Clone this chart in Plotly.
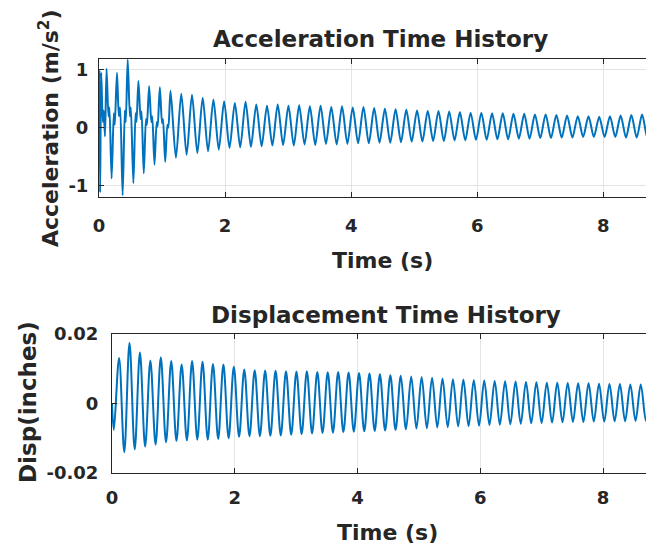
import plotly.graph_objects as go

# ---------------- data ----------------
# Extremum times of the steady oscillation (s)
EXT_T = [0.030, 0.115, 0.200, 0.285, 0.370, 0.455, 0.540, 0.625, 0.710, 0.795,
         0.880, 0.965, 1.050, 1.135, 1.220, 1.305, 1.390, 1.475, 1.560, 1.645,
         1.730, 1.815, 1.900, 1.985, 2.070, 2.155, 2.240, 2.325, 2.410, 2.495,
         2.580, 2.665, 2.750, 2.835, 2.920, 3.005, 3.090, 3.175, 3.260, 3.345,
         3.430, 3.515, 3.600, 3.685, 3.770, 3.855, 3.940, 4.025, 4.110, 4.195,
         4.280, 4.365, 4.450, 4.535, 4.620, 4.705, 4.790, 4.875, 4.960, 5.045,
         5.130, 5.215, 5.300, 5.385, 5.470, 5.555, 5.640, 5.725, 5.810, 5.895,
         5.980, 6.065, 6.150, 6.235, 6.320, 6.405, 6.490, 6.575, 6.660, 6.745,
         6.830, 6.915, 7.000, 7.085, 7.170, 7.255, 7.340, 7.425, 7.510, 7.595,
         7.680, 7.765, 7.850, 7.935, 8.020, 8.105, 8.190, 8.275, 8.360, 8.445,
         8.530, 8.615, 8.700, 8.785, 8.870]

# Displacement (inches) at t=0 and at each extremum
DISP_T0 = 0.0
DISP_V0 = 0.0
DISP_V = [-0.0076, 0.0131, -0.0140, 0.0174, -0.0132, 0.0147, -0.0124, 0.0124, -0.0118, 0.0133,
          -0.0112, 0.0122, -0.0108, 0.0112, -0.0106, 0.0122, -0.0104, 0.0120, -0.0104, 0.0114,
          -0.0102, 0.0112, -0.0100, 0.0106, -0.0096, 0.0098, -0.0094, 0.0096, -0.0094, 0.0095,
          -0.0093, 0.0094, -0.0092, 0.0093, -0.0090, 0.0092, -0.0088, 0.0093, -0.0086, 0.0091,
          -0.0085, 0.0090, -0.0084, 0.0091, -0.0082, 0.0089, -0.0081, 0.0088, -0.0080, 0.0086,
          -0.0079, 0.0084, -0.0078, 0.0081, -0.0076, 0.0080, -0.0074, 0.0078, -0.0072, 0.0076,
          -0.0071, 0.0074, -0.0069, 0.0072, -0.0068, 0.0070, -0.0066, 0.0069, -0.0065, 0.0067,
          -0.0064, 0.0066, -0.0062, 0.0065, -0.0061, 0.0064, -0.0060, 0.0063, -0.0058, 0.0062,
          -0.0057, 0.0061, -0.0056, 0.0060, -0.0055, 0.0060, -0.0054, 0.0059, -0.0053, 0.0058,
          -0.0053, 0.0058, -0.0052, 0.0057, -0.0052, 0.0056, -0.0051, 0.0056, -0.0051, 0.0055,
          -0.0050, 0.0055, -0.0050, 0.0054, -0.0049]

# Acceleration (m/s^2): early transient with extra wiggles
ACC_T_EARLY = [0.000, 0.008, 0.018, 0.035, 0.060, 0.075, 0.095, 0.120, 0.150, 0.165,
               0.200, 0.235, 0.250, 0.285, 0.315, 0.335, 0.375, 0.410, 0.425, 0.455,
               0.490, 0.505, 0.545, 0.580, 0.595, 0.625, 0.660, 0.675, 0.710, 0.745,
               0.760, 0.795, 0.830, 0.845, 0.880, 0.915, 0.930, 0.965, 1.000, 1.015,
               1.050, 1.085, 1.100, 1.135]
ACC_V_EARLY = [0.00, 1.00, -1.12, 0.95, 0.10, 0.30, -0.15, 1.02, 0.20, 0.35,
               -0.88, 0.25, 0.05, 0.95, 0.20, 0.35, -1.17, 0.30, 0.10, 1.18,
               0.20, 0.35, -0.96, 0.25, 0.10, 0.81, 0.15, 0.28, -0.79, 0.15,
               0.05, 0.72, 0.10, 0.20, -0.64, 0.10, 0.02, 0.70, 0.08, 0.15,
               -0.59, 0.05, 0.00, 0.64]
# Acceleration at extrema EXT_T[14:] (t >= 1.22 s)
ACC_V_LATE = [-0.52, 0.59, -0.47, 0.57, -0.44, 0.52, -0.41, 0.49, -0.38, 0.46,
              -0.35, 0.43, -0.34, 0.45, -0.33, 0.40, -0.32, 0.38, -0.31, 0.40,
              -0.30, 0.38, -0.31, 0.39, -0.29, 0.37, -0.30, 0.38, -0.28, 0.36,
              -0.29, 0.37, -0.28, 0.35, -0.27, 0.36, -0.27, 0.34, -0.26, 0.33,
              -0.26, 0.32, -0.25, 0.31, -0.24, 0.30, -0.24, 0.29, -0.23, 0.29,
              -0.23, 0.28, -0.22, 0.27, -0.22, 0.26, -0.21, 0.26, -0.21, 0.25,
              -0.20, 0.25, -0.20, 0.24, -0.19, 0.24, -0.19, 0.23, -0.18, 0.23,
              -0.18, 0.22, -0.17, 0.21, -0.17, 0.20, -0.16, 0.20, -0.16, 0.19,
              -0.16, 0.20, -0.16, 0.21, -0.17, 0.22, -0.17, 0.23, -0.18, 0.23,
              -0.18]

X_TICKS = [0, 2, 4, 6, 8]
ACC_TICKS = [-1, 0, 1]
DISP_TICKS = [-0.02, 0, 0.02]
DISP_TICK_TEXT = ["<b>-0.02</b>", "<b>0</b>", "<b>0.02</b>"]

# ---------------- figure ----------------
OFF = 8                     # page body margin of the browser
W, H = 654 - OFF, 552 - OFF
LINE = "#0072BD"
TXT = "#262626"
GRID = "#e3e3e3"
FONT = "DejaVu Sans"

acc_t = ACC_T_EARLY + EXT_T[14:]
acc_v = ACC_V_EARLY + ACC_V_LATE
disp_t = [DISP_T0] + EXT_T
disp_v = [DISP_V0] + DISP_V

fig = go.Figure()
fig.add_trace(go.Scatter(x=acc_t, y=acc_v, mode="lines",
                         line=dict(color=LINE, width=2, shape="spline", smoothing=0.8),
                         xaxis="x", yaxis="y", showlegend=False))
fig.add_trace(go.Scatter(x=disp_t, y=disp_v, mode="lines",
                         line=dict(color=LINE, width=2, shape="spline", smoothing=1.0),
                         xaxis="x2", yaxis="y2", showlegend=False))


def px_x(p):
    return (p - OFF) / W


def px_y(p):
    return 1 - (p - OFF) / H


axis_common = dict(showline=True, linecolor=TXT, linewidth=1, ticks="inside",
                   ticklen=5, tickcolor=TXT, showgrid=True, gridcolor=GRID,
                   zeroline=False, automargin=False,
                   tickfont=dict(family=FONT, size=18, color=TXT))

fig.update_layout(
    width=W, height=H,
    margin=dict(l=0, r=0, t=0, b=0, pad=0, autoexpand=False),
    paper_bgcolor="white", plot_bgcolor="white", showlegend=False,
    xaxis=dict(domain=[px_x(99), 1], range=[0, 8.804], anchor="y",
               tickvals=X_TICKS, ticktext=[f"<b>{v}</b>" for v in X_TICKS],
               mirror="ticks", ticklabelstandoff=12, **axis_common),
    yaxis=dict(domain=[px_y(197), px_y(59)], range=[-1.2, 1.19], anchor="x",
               tickvals=ACC_TICKS, ticktext=[f"<b>{v}</b>" for v in ACC_TICKS],
               ticklabelstandoff=6, **axis_common),
    xaxis2=dict(domain=[px_x(112), 1], range=[0, 8.831], anchor="y2",
                tickvals=X_TICKS, ticktext=[f"<b>{v}</b>" for v in X_TICKS],
                mirror="ticks", ticklabelstandoff=8, **axis_common),
    yaxis2=dict(domain=[px_y(473), px_y(334)], range=[-0.02, 0.02], anchor="x2",
                tickvals=DISP_TICKS, ticktext=DISP_TICK_TEXT,
                ticklabelstandoff=9, **axis_common),
)


def label(text, x, y, size, angle=0):
    fig.add_annotation(text=f"<b>{text}</b>", x=px_x(x), y=px_y(y),
                       xref="paper", yref="paper", xanchor="center", yanchor="middle",
                       showarrow=False, textangle=angle,
                       font=dict(family=FONT, size=size, color=TXT))


label("Acceleration Time History", 380.5, 39, 23)
label("Time (s)", 382, 260, 22)
label("Acceleration (m/s<sup>2</sup>)", 49, 128, 22, angle=-90)
label("Displacement Time History", 386, 315, 23)
label("Time (s)", 387.5, 532, 22)
label("Disp(inches)", 28, 402, 23, angle=-90)

fig.write_html("out.html")
